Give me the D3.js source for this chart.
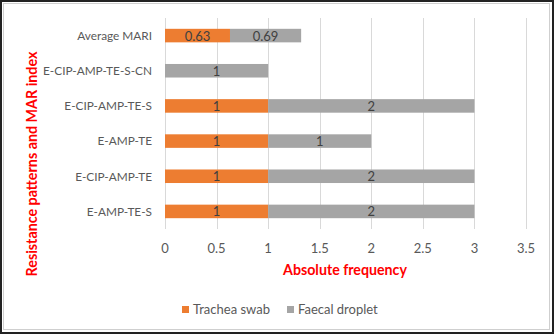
<!DOCTYPE html>
<html>
<head>
<meta charset="utf-8">
<script src="https://cdn.jsdelivr.net/npm/d3@7"></script>
<style>
  html, body { margin: 0; padding: 0; background: #fff; }
  svg { display: block; font-family: Lato, "Open Sans", sans-serif; }
</style>
</head>
<body>
<svg id="chart" width="554" height="334"></svg>
<script>
// Resistance patterns (top to bottom) and counts per sample type
const categories = ["Average MARI", "E-CIP-AMP-TE-S-CN", "E-CIP-AMP-TE-S", "E-AMP-TE", "E-CIP-AMP-TE", "E-AMP-TE-S"];
const tracheaSwab = [0.63, 0, 1, 1, 1, 1];
const faecalDroplet = [0.69, 1, 2, 1, 2, 2];
const seriesNames = ["Trachea swab", "Faecal droplet"];
const seriesColors = ["#ED7D31", "#A5A5A5"];
const xTicks = [0, 0.5, 1, 1.5, 2, 2.5, 3, 3.5];

const svg = d3.select("#chart");
const W = 554, H = 334;

// shrink or grow a text element's font so it spans the given width
function fitWidth(sel, width) {
  sel.each(function () {
    const el = d3.select(this);
    const fs = parseFloat(el.attr("font-size"));
    const w = this.getComputedTextLength();
    el.attr("font-size", (fs * width / w).toFixed(2));
  });
}

// frame
svg.append("rect").attr("x", 1).attr("y", 1).attr("width", W - 2).attr("height", H - 2)
  .attr("fill", "#fff").attr("stroke", "#222").attr("stroke-width", 2);
svg.append("rect").attr("x", 3.5).attr("y", 3.5).attr("width", W - 8).attr("height", H - 8)
  .attr("fill", "none").attr("stroke", "#cfcfcf").attr("stroke-width", 1);

const plot = { left: 165, right: 526, top: 18, bottom: 229 };

const x = d3.scaleLinear().domain([0, 3.5]).range([plot.left, plot.right]);
const y = d3.scaleBand().domain(categories).range([plot.top, plot.bottom]).paddingInner(0.615).paddingOuter(0.3075);

// gridlines
svg.append("g").selectAll("line").data(xTicks).join("line")
  .attr("x1", d => Math.round(x(d)) + 0.5).attr("x2", d => Math.round(x(d)) + 0.5)
  .attr("y1", plot.top).attr("y2", plot.bottom)
  .attr("stroke", "#d9d9d9").attr("stroke-width", 1);

// stacked bars
const rows = categories.map((c, i) => ({ cat: c, values: [tracheaSwab[i], faecalDroplet[i]] }));
const stackData = rows.map(r => {
  let acc = 0;
  return r.values.map((v, k) => { const s = { cat: r.cat, k, v, x0: acc, x1: acc + v }; acc += v; return s; });
}).flat().filter(d => d.v > 0);

svg.append("g").selectAll("rect").data(stackData).join("rect")
  .attr("x", d => x(d.x0)).attr("width", d => x(d.x1) - x(d.x0))
  .attr("y", d => y(d.cat)).attr("height", y.bandwidth())
  .attr("fill", d => seriesColors[d.k]);

// data labels
svg.append("g").selectAll("text").data(stackData).join("text")
  .attr("x", d => (x(d.x0) + x(d.x1)) / 2)
  .attr("y", d => y(d.cat) + y.bandwidth() / 2)
  .attr("dy", "0.38em")
  .attr("text-anchor", "middle")
  .attr("font-size", 13).attr("fill", "#404040")
  .text(d => d.v);

// category labels
const catLabels = svg.append("g").selectAll("text").data(categories).join("text")
  .attr("x", plot.left - 13)
  .attr("y", d => y(d) + y.bandwidth() / 2)
  .attr("dy", "0.36em")
  .attr("text-anchor", "end")
  .attr("font-size", 12).attr("fill", "#595959")
  .text(d => d);
{
  const longest = catLabels.filter(d => d === "E-CIP-AMP-TE-S-CN");
  const fs = 12 * 109 / longest.node().getComputedTextLength();
  catLabels.attr("font-size", fs.toFixed(2));
}

// x tick labels
svg.append("g").selectAll("text").data(xTicks).join("text")
  .attr("x", d => x(d)).attr("y", 253)
  .attr("text-anchor", "middle")
  .attr("font-size", 13).attr("fill", "#595959")
  .text(d => d);

// axis titles
svg.append("text").attr("x", 345).attr("y", 275)
  .attr("text-anchor", "middle").attr("font-size", 14).attr("font-weight", "bold")
  .attr("fill", "#ff0000").text("Absolute frequency")
  .call(fitWidth, 124);

svg.append("text")
  .attr("transform", "translate(37,164) rotate(-90)")
  .attr("text-anchor", "middle").attr("font-size", 14).attr("font-weight", "bold")
  .attr("fill", "#ff0000").text("Resistance patterns and MAR index")
  .call(fitWidth, 225);

// legend
const legendX = [182, 287];
const lg = svg.append("g").selectAll("g").data(seriesNames).join("g")
  .attr("transform", (d, i) => `translate(${legendX[i]},306)`);
lg.append("rect").attr("width", 7).attr("height", 7).attr("fill", (d, i) => seriesColors[i]);
lg.append("text").attr("x", 11).attr("y", 3.5).attr("dy", "0.38em")
  .attr("font-size", 13).attr("fill", "#595959").text(d => d);
</script>
</body>
</html>
